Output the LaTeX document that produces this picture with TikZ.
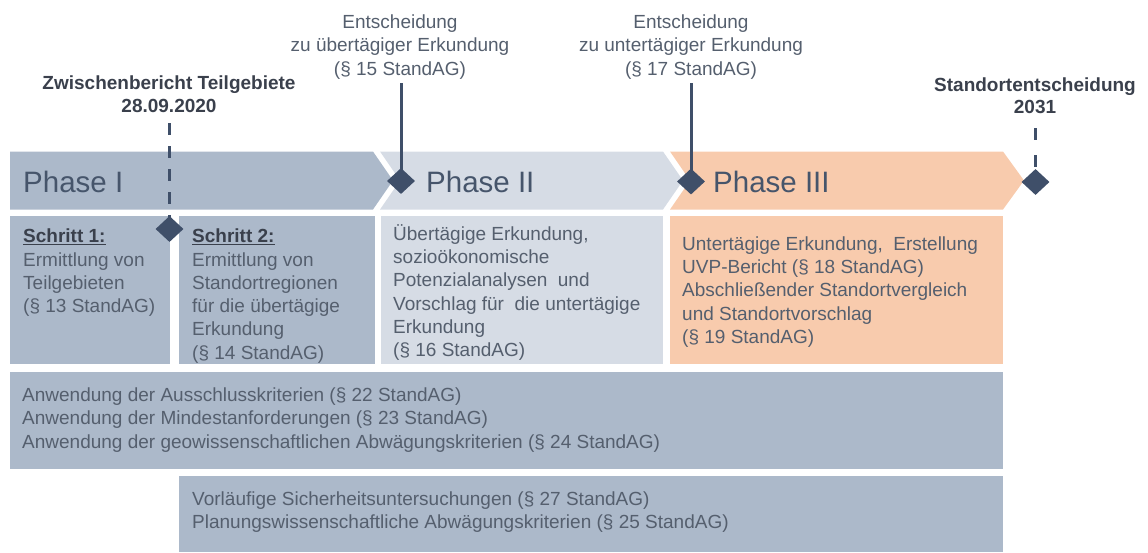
\documentclass[tikz,border=0pt]{standalone}
\usepackage{fontspec}
\setmainfont{Liberation Sans}
\usetikzlibrary{shapes.geometric,backgrounds}
\definecolor{slate}{HTML}{ACB9CA}
\definecolor{pale}{HTML}{D6DCE5}
\definecolor{peach}{HTML}{F8CBAD}
\definecolor{ink}{HTML}{3F4F69}
\definecolor{bodytxt}{HTML}{555F6E}
\definecolor{headtxt}{HTML}{3A404C}
\definecolor{phasetxt}{HTML}{46556B}
\begin{document}
\begin{tikzpicture}[x=1pt,y=-1pt,
  body/.style={inner sep=0pt, anchor=north west, align=left, text=bodytxt, font=\fontsize{19}{23.3}\selectfont},
  widebody/.style={inner sep=0pt, anchor=north west, align=left, text=bodytxt, font=\fontsize{19}{23.7}\selectfont},
  head/.style={inner sep=0pt, anchor=north, align=center, text=headtxt, font=\bfseries\fontsize{19}{22.5}\selectfont},
  toplabel/.style={inner sep=0pt, anchor=north, align=center, text=bodytxt, font=\fontsize{19}{23.5}\selectfont},
  phaselabel/.style={inner sep=0pt, anchor=base west, text=phasetxt, font=\fontsize{29.5}{30}\selectfont},
  milestone/.style={shape=diamond, fill=ink, draw=none, inner sep=0pt, minimum width=28pt, minimum height=26pt},
  solidline/.style={draw=ink, line width=3pt},
  dashline/.style={draw=ink, line width=3.2pt, dash pattern=on 12pt off 11pt}
]
\useasboundingbox (0,0) rectangle (1148,552);

% milestones
\node[milestone] (d15) at (401,181) {};
\node[milestone] (d17) at (691,181.5) {};
\node[milestone] (d31) at (1035.5,182) {};
\node[milestone] (dzb) at (169.5,229) {};

% top labels
\node[head] (zb) at (169,73.75) {\strut Zwischenbericht Teilgebiete\\28.09.2020};
\node[head] (so) at (1035,75.25) {\strut Standortentscheidung\\2031};
\node[toplabel] (e15) at (400,11.55) {\strut Entscheidung\\zu übertägiger Erkundung\\(§ 15 StandAG)};
\node[toplabel] (e17) at (691,11.55) {\strut Entscheidung\\zu untertägiger Erkundung\\(§ 17 StandAG)};

\coordinate (zbend) at (169.5,123);
\coordinate (soend) at (1035.5,128);
\coordinate (e15end) at (401,83);
\coordinate (e17end) at (691,83);

\begin{pgfonlayer}{background}
% phase band
\fill[slate] (10,151.5) -- (373,151.5) -- (393,180.5) -- (373,209.5) -- (10,209.5) -- cycle;
\fill[pale] (380,151.5) -- (663,151.5) -- (683,180.5) -- (663,209.5) -- (380,209.5) -- (400,180.5) -- cycle;
\fill[peach] (670,151.5) -- (1003,151.5) -- (1024,180.5) -- (1003,209.5) -- (670,209.5) -- (690,180.5) -- cycle;
% boxes
\fill[slate] (10,216) rectangle (170,364);
\fill[slate] (179,216) rectangle (375,364);
\fill[pale] (381,216) rectangle (663,364);
\fill[peach] (670,216) rectangle (1003,364);
\fill[slate] (10,372) rectangle (1003,469);
\fill[slate] (179,476) rectangle (1003,552);
% connectors
\draw[dashline] (zbend) -- (dzb.center);
\draw[dashline, dash pattern=on 12pt off 15pt] (soend) -- (d31.center);
\draw[solidline] (e15end) -- (d15.center);
\draw[solidline] (e17end) -- (d17.center);
\end{pgfonlayer}

% phase labels
\node[phaselabel] (p1) at (23,192) {Phase I};
\node[phaselabel] (p2) at (426,192) {Phase II};
\node[phaselabel] (p3) at (713,192) {Phase III};

% step boxes
\node[body] (b1) at (23,226.2) {\strut\textcolor{headtxt}{\underline{\textbf{Schritt 1:}}}\\Ermittlung von\\Teilgebieten\\(§ 13 StandAG)};
\node[body] (b2) at (192,226.2) {\strut\textcolor{headtxt}{\underline{\textbf{Schritt 2:}}}\\Ermittlung von\\Standortregionen\\für die übertägige\\Erkundung\\(§ 14 StandAG)};
\node[body] (b3) at (393,223.7) {\strut Übertägige Erkundung,\\sozioökonomische\\Potenzialanalysen\ \ und\\Vorschlag für\ \ die untertägige\\Erkundung\\(§ 16 StandAG)};
\node[body] (b4) at (682,233.7) {\strut Untertägige Erkundung,\ \ Erstellung\\UVP-Bericht (§ 18 StandAG)\\Abschließender Standortvergleich\\und Standortvorschlag\\(§ 19 StandAG)};
\node[widebody] (w1) at (22,384.4) {\strut Anwendung der Ausschlusskriterien (§ 22 StandAG)\\Anwendung der Mindestanforderungen (§ 23 StandAG)\\Anwendung der geowissenschaftlichen Abwägungskriterien (§ 24 StandAG)};
\node[widebody] (w2) at (192,488.4) {\strut Vorläufige Sicherheitsuntersuchungen (§ 27 StandAG)\\Planungswissenschaftliche Abwägungskriterien (§ 25 StandAG)};
\end{tikzpicture}
\end{document}
